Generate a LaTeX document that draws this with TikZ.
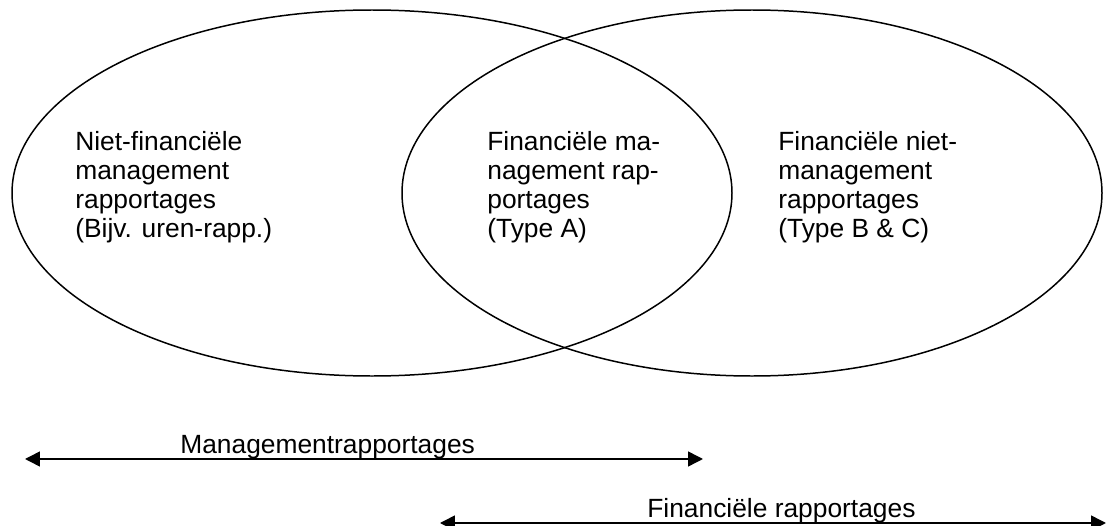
\documentclass[tikz,border=0pt]{standalone}
\usepackage{fontspec}
\setmainfont{Liberation Sans}
\usetikzlibrary{arrows.meta}
\begin{document}
\begin{tikzpicture}[scale=0.2]
    \tikzstyle{every node}+=[inner sep=0pt]
    \tikzset{
      blocktext/.style={anchor=base west, align=left, font=\fontsize{15}{16.5}\selectfont},
      spanlabel/.style={anchor=base west, font=\fontsize{15}{16.5}\selectfont},
      spanarrow/.style={line width=0.85pt, {Triangle[length=8.5pt,width=8.5pt]}-{Triangle[length=8.5pt,width=8.5pt]}}
    }
    \useasboundingbox (0,0) rectangle (110.8,-52.6);
    \draw [black, line width=0.85pt] (37.2,-19.3) ellipse (36.0 and 18.3);
    \draw [black, line width=0.85pt] (75.2,-19.3) ellipse (35.0 and 18.3);
    \node [blocktext] (nonfin) at (7.5,-23.7) {Niet-financi\"ele\\management\\rapportages\\(Bijv. uren-rapp.)};
    \node [blocktext] (finmgmt) at (48.7,-23.7) {Financi\"ele ma-\\nagement rap-\\portages\\(Type A)};
    \node [blocktext] (finnonmgmt) at (77.8,-23.7) {Financi\"ele niet-\\management\\rapportages\\(Type B \& C)};
    \coordinate (mgmtL) at (2.5,-45.9);
    \coordinate (mgmtR) at (70.3,-45.9);
    \coordinate (finL) at (44.0,-52.3);
    \coordinate (finR) at (110.6,-52.3);
    \node [spanlabel] (mgmtlabel) at (18.0,-45.3) {Managementrapportages};
    \node [spanlabel] (finlabel) at (64.7,-51.7) {Financi\"ele rapportages};
    \draw [spanarrow] (mgmtL) -- (mgmtR);
    \draw [spanarrow] (finL) -- (finR);
\end{tikzpicture}
\end{document}
